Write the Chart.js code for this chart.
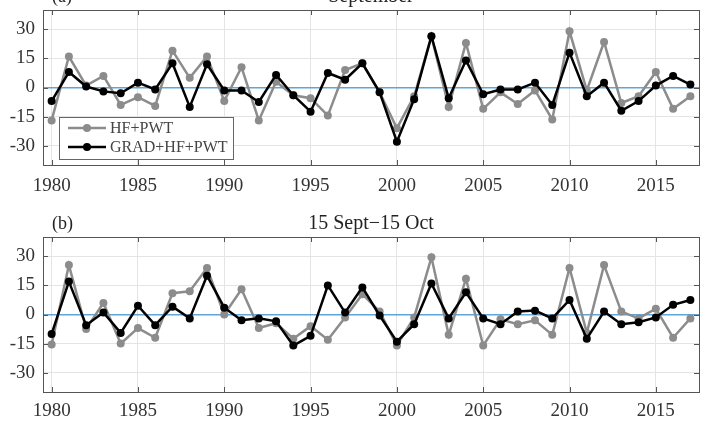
<!DOCTYPE html>
<html>
<head>
<meta charset="utf-8">
<script src="https://cdn.jsdelivr.net/npm/chart.js@4.4.1/dist/chart.umd.min.js"></script>
<style>
  html, body { margin: 0; padding: 0; background: #fff; }
  #wrap { position: relative; width: 709px; height: 429px; overflow: hidden; }
  canvas { position: absolute; left: 0; }
  #c1 { top: 0; }
  #c2 { top: 200px; }
</style>
</head>
<body>
<div id="wrap">
  <canvas id="c1" width="709" height="200"></canvas>
  <canvas id="c2" width="709" height="229"></canvas>
</div>
<script>
// ---- data ----
const years = [1980,1981,1982,1983,1984,1985,1986,1987,1988,1989,
               1990,1991,1992,1993,1994,1995,1996,1997,1998,1999,
               2000,2001,2002,2003,2004,2005,2006,2007,2008,2009,
               2010,2011,2012,2013,2014,2015,2016,2017];

const xTickLabels = [1980,1985,1990,1995,2000,2005,2010,2015];
const yTickLabels = [-30,-15,0,15,30];

const seriesNames = ["HF+PWT", "GRAD+HF+PWT"];
const panelTitles = ["September", "15 Sept\u221215 Oct"];
const panelTags = ["(a)", "(b)"];

// (a) September
const sepHF = [-17,16,1,6,-9,-5,-9.5,19,5,16,
               -7,10.5,-17,3,-4,-5.5,-14.5,9,12.5,-2.5,
               -21,-4.5,26.5,-10,23,-11,-2.5,-8.5,-1.5,-16.5,
               29,-1.5,23.5,-8,-4.5,8,-11,-4.5];
const sepGRAD = [-7,8,0.5,-2,-3,2.5,-1,12.5,-10,12,
                 -1.5,-1.5,-7.5,6.5,-4,-12.5,7.5,4,12.5,-2.5,
                 -28,-6,26.5,-5.5,14,-3.5,-1,-1,2.5,-9,
                 18,-4.5,2.5,-12,-7,1,6,1.5];

// (b) 15 Sept - 15 Oct
const octHF = [-15.5,25.5,-7.5,6,-15,-7,-12,11,12,24,
               0,13,-7,-4.5,-12.5,-6,-13,-1.5,10.5,1.5,
               -16,-1.5,29.5,-10.5,18.5,-16,-2.5,-5,-3,-10.5,
               24,-9.5,25.5,1.5,-2,3,-12,-2];
const octGRAD = [-10,17,-5.5,1,-9.5,4.5,-5.5,4,-2,20,
                 3.5,-3,-2,-3.5,-16,-11,15,1,14,-0.5,
                 -14,-5,16,-2,11.5,-2,-5,1.5,2,-2,
                 7.5,-12.5,1.5,-5,-4,-1.5,5,7.5];

// ---- styles ----
const FONT = "'Liberation Serif', 'Times New Roman', serif";
const GRAY = "rgb(140,140,140)";
const BLACK = "#000";
const BOX = "#555";
const GRID = "#e4e4e4";
const ZERO = "rgb(95,165,215)";

function pts(vals) { return years.map((yr, i) => ({ x: yr, y: vals[i] })); }

const framePlugin = {
  id: 'frame',
  afterDraw(chart, args, opts) {
    const ctx = chart.ctx;
    const a = chart.chartArea;
    const xs = chart.scales.x, ys = chart.scales.y;
    ctx.save();
    // box
    ctx.strokeStyle = BOX;
    ctx.lineWidth = 1;
    ctx.strokeRect(Math.round(a.left) + 0.5, Math.round(a.top) + 0.5,
                   Math.round(a.right - a.left), Math.round(a.bottom - a.top));
    // inward tick marks
    const tl = 5;
    ctx.beginPath();
    xTickLabels.forEach(v => {
      const px = Math.round(xs.getPixelForValue(v)) + 0.5;
      ctx.moveTo(px, a.bottom); ctx.lineTo(px, a.bottom - tl);
      ctx.moveTo(px, a.top); ctx.lineTo(px, a.top + tl);
    });
    yTickLabels.forEach(v => {
      const py = Math.round(ys.getPixelForValue(v)) + 0.5;
      ctx.moveTo(a.left, py); ctx.lineTo(a.left + tl, py);
      ctx.moveTo(a.right, py); ctx.lineTo(a.right - tl, py);
    });
    ctx.stroke();
    // title and tag
    ctx.fillStyle = "#222";
    ctx.textBaseline = 'alphabetic';
    ctx.font = "20px " + FONT;
    ctx.textAlign = 'center';
    ctx.fillText(opts.title, (a.left + a.right) / 2, a.top - 8);
    ctx.font = "18px " + FONT;
    ctx.textAlign = 'left';
    ctx.fillText(opts.tag, a.left + 9, a.top - 8);
    // legend
    if (opts.legend) {
      const lx = a.left + 16, ly = a.top + 107, lw = 174, lh = 42;
      ctx.fillStyle = "#fff";
      ctx.fillRect(lx, ly, lw, lh);
      ctx.strokeStyle = "#666";
      ctx.lineWidth = 1;
      ctx.strokeRect(lx + 0.5, ly + 0.5, lw, lh);
      const rows = [
        { name: seriesNames[0], color: GRAY, y: ly + 11 },
        { name: seriesNames[1], color: BLACK, y: ly + 30 }
      ];
      rows.forEach(r => {
        ctx.strokeStyle = r.color;
        ctx.lineWidth = 2.5;
        ctx.beginPath();
        ctx.moveTo(lx + 9, r.y); ctx.lineTo(lx + 47, r.y);
        ctx.stroke();
        ctx.fillStyle = r.color;
        ctx.beginPath();
        ctx.arc(lx + 28, r.y, 4, 0, Math.PI * 2);
        ctx.fill();
        ctx.fillStyle = "#444";
        ctx.font = "16px " + FONT;
        ctx.textAlign = 'left';
        ctx.textBaseline = 'middle';
        ctx.fillText(r.name, lx + 51, r.y + 1);
      });
    }
    ctx.restore();
  }
};

function makeChart(canvasId, hf, grad, idx, topPad, xHeight, xPad) {
  return new Chart(document.getElementById(canvasId), {
    type: 'line',
    data: {
      datasets: [
        { label: seriesNames[0], data: pts(hf), borderColor: GRAY, backgroundColor: GRAY,
          borderWidth: 2.5, pointRadius: 4, pointBorderWidth: 0, pointHoverRadius: 4,
          tension: 0, order: 2 },
        { label: seriesNames[1], data: pts(grad), borderColor: BLACK, backgroundColor: BLACK,
          borderWidth: 2.5, pointRadius: 4, pointBorderWidth: 0, pointHoverRadius: 4,
          tension: 0, order: 1 }
      ]
    },
    options: {
      responsive: false,
      animation: false,
      devicePixelRatio: 1,
      layout: { padding: { top: topPad, right: 10, left: 0, bottom: 0 } },
      plugins: {
        legend: { display: false },
        tooltip: { enabled: false },
        title: { display: false },
        frame: { title: panelTitles[idx], tag: panelTags[idx], legend: idx === 0 }
      },
      scales: {
        x: {
          type: 'linear', min: 1979.5, max: 2017.5,
          afterBuildTicks(s) { s.ticks = xTickLabels.map(v => ({ value: v })); },
          afterFit(s) { s.height = xHeight; s.paddingLeft = 0; s.paddingRight = 0; },
          border: { display: false },
          grid: { color: GRID, lineWidth: 1, drawTicks: false },
          ticks: { padding: xPad, color: "#333", font: { family: FONT, size: 19 },
                   maxRotation: 0, autoSkip: false, callback: v => String(v) }
        },
        y: {
          min: -40, max: 40,
          afterBuildTicks(s) { s.ticks = yTickLabels.map(v => ({ value: v })); },
          afterFit(s) { s.width = 43; s.paddingTop = 0; s.paddingBottom = 0; },
          border: { display: false },
          grid: {
            drawTicks: false,
            color: c => (c.tick && c.tick.value === 0) ? ZERO : GRID,
            lineWidth: c => (c.tick && c.tick.value === 0) ? 1.6 : 1
          },
          ticks: { padding: 8, color: "#333", font: { family: FONT, size: 19 },
                   callback: v => String(v) }
        }
      }
    },
    plugins: [framePlugin]
  });
}

makeChart('c1', sepHF, sepGRAD, 0, 10, 35, 10);
makeChart('c2', octHF, octGRAD, 1, 37, 37, 8);
</script>
</body>
</html>
